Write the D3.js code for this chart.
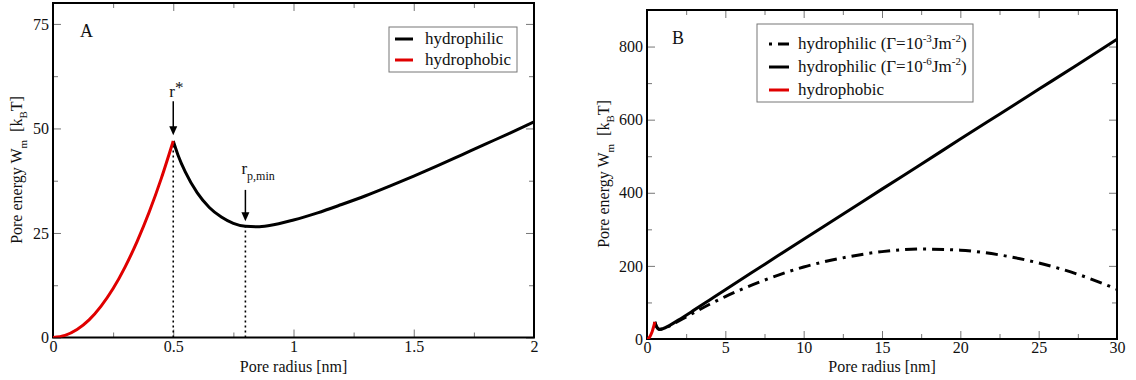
<!DOCTYPE html>
<html>
<head>
<meta charset="utf-8">
<script src="https://cdn.jsdelivr.net/npm/d3@7"></script>
<style>
  body { margin: 0; background: #fff; }
  svg { display: block; }
  svg text { font-family: "Liberation Serif", "Times New Roman", Tinos, Times, serif !important; fill: #111; }
</style>
</head>
<body>
<div id="chart"></div>
<script>
// pore energy curves

// hydrophobic branch, shared by both panels (r in nm, W in kBT)
const radiusPhobic = [0, 0.05, 0.1, 0.15, 0.2, 0.25, 0.3, 0.35, 0.4, 0.45, 0.5];
const energyPhobic = [0, 0.5, 1.9, 4.2, 7.5, 11.7, 16.9, 23.0, 30.0, 38.0, 47.0];

// hydrophilic branch, panel A
const radiusPhilicA = [0.5, 0.52, 0.55, 0.6, 0.65, 0.7, 0.75, 0.8, 0.85, 0.9, 1.0,
  1.1, 1.2, 1.3, 1.4, 1.5, 1.6, 1.7, 1.8, 1.9, 2.0];
const energyPhilicA = [47.0, 43.6, 39.6, 34.6, 31.1, 28.8, 27.3, 26.6, 26.5, 26.8, 28.1,
  29.8, 31.8, 33.9, 36.2, 38.6, 41.1, 43.7, 46.3, 48.9, 51.6];

// panel B, two line tensions
const radiusB = [0.5, 0.6, 0.8, 1, 1.5, 2, 3, 4, 5, 7.5, 10, 12.5, 15, 17.5, 20, 22.5, 25, 27.5, 30];
const energyLowTension = [47, 34.6, 26.6, 28.1, 38.6, 51.6, 79, 107, 135, 204, 273, 341, 410, 478, 547, 615, 683, 751, 820];
const energyHighTension = [47, 34.6, 26.1, 27.3, 36.9, 48.6, 72, 95, 116, 161, 197, 222, 239, 246, 243, 230, 208, 177, 136];

// tick values
const ticksAx = [0, 0.5, 1, 1.5, 2];
const ticksAy = [0, 25, 50, 75];
const ticksBx = [0, 5, 10, 15, 20, 25, 30];
const ticksBy = [0, 200, 400, 600, 800];

// marked radii in panel A
const rStar = 0.5, rStarEnergy = 47.0;
const rMin = 0.8, rMinEnergy = 26.6;

const W = 1136, H = 380;
const FONT = "Liberation Serif, Times New Roman, serif";
const svg = d3.select("#chart").append("svg").attr("width", W).attr("height", H)
  .attr("font-family", FONT);

const toPts = (xs, ys) => xs.map((x, i) => [x, ys[i]]);

function drawFrame(g, x, y, majX, minX, majY, minY, id) {
  const [x0, x1] = x.range(), [y0, y1] = y.range();

  g.append("defs").append("clipPath").attr("id", id)
    .append("rect").attr("x", x0).attr("y", y1).attr("width", x1 - x0).attr("height", y0 - y1);

  // inward ticks on all four sides, labels only left/bottom
  const sides = [
    [d3.axisBottom(x), y0, 0, majX, minX, true],
    [d3.axisTop(x), y1, 0, majX, minX, false],
    [d3.axisLeft(y), x0, 1, majY, minY, true],
    [d3.axisRight(y), x1, 1, majY, minY, false]
  ];
  sides.forEach(([ax, pos, vert, maj, min, labels]) => {
    const tr = vert ? `translate(${pos},0)` : `translate(0,${pos})`;
    g.append("g").attr("transform", tr)
      .call(ax.tickValues(min).tickSize(-5).tickFormat(""))
      .call(s => s.select(".domain").remove())
      .call(s => s.selectAll("line").attr("stroke", "#777"));
    const a = g.append("g").attr("transform", tr)
      .call(ax.tickValues(maj).tickSize(-8).tickPadding(vert ? 4 : 3)
        .tickFormat(labels ? d3.format("") : ""))
      .call(s => s.select(".domain").remove())
      .call(s => s.selectAll("line").attr("stroke", "#777"));
    a.attr("font-family", FONT).attr("font-size", 16);
  });

  g.append("rect").attr("x", x0).attr("y", y1).attr("width", x1 - x0).attr("height", y0 - y1)
    .attr("fill", "none").attr("stroke", "#000").attr("stroke-width", 2);
}

function yTitle(g, xPos, yMid) {
  const t = g.append("text").attr("transform", `translate(${xPos},${yMid}) rotate(-90)`)
    .attr("text-anchor", "middle").attr("font-size", 16);
  t.append("tspan").text("Pore energy W");
  t.append("tspan").attr("font-size", 11).attr("dy", 5).text("m");
  t.append("tspan").attr("dy", -5).text("\u00a0\u00a0[k");
  t.append("tspan").attr("font-size", 11).attr("dy", 5).text("B");
  t.append("tspan").attr("dy", -5).text("T]");
}

function xTitle(g, x) {
  const [x0, x1] = x.range();
  g.append("text").attr("x", (x0 + x1) / 2).attr("y", 372)
    .attr("text-anchor", "middle").attr("font-size", 16).text("Pore radius [nm]");
}

function arrow(g, xPix, yFrom, yTo) {
  g.append("line").attr("x1", xPix).attr("x2", xPix).attr("y1", yFrom).attr("y2", yTo - 7)
    .attr("stroke", "#000").attr("stroke-width", 1.5);
  g.append("path").attr("d", `M${xPix - 4},${yTo - 9}L${xPix + 4},${yTo - 9}L${xPix},${yTo}Z`).attr("fill", "#000");
}

// ---------- panel A ----------
const xA = d3.scaleLinear().domain([0, 2]).range([53, 534]);
const yA = d3.scaleLinear().domain([0, 80]).range([337.5, 3]);
const gA = svg.append("g");
drawFrame(gA, xA, yA, ticksAx, d3.range(0.25, 2, 0.5), ticksAy, [12.5, 37.5, 62.5], "clipA");

const lineA = d3.line().x(d => xA(d[0])).y(d => yA(d[1])).curve(d3.curveMonotoneX);
const plotA = gA.append("g").attr("clip-path", "url(#clipA)");

// dotted drop lines
[[rStar, rStarEnergy], [rMin, rMinEnergy]].forEach(([r, e]) => {
  plotA.append("line").attr("x1", xA(r)).attr("x2", xA(r)).attr("y1", yA(0)).attr("y2", yA(e))
    .attr("stroke", "#000").attr("stroke-width", 1.6).attr("stroke-dasharray", "2,3");
});
plotA.append("path").datum(toPts(radiusPhilicA, energyPhilicA)).attr("d", lineA)
  .attr("fill", "none").attr("stroke", "#000").attr("stroke-width", 3);
plotA.append("path").datum(toPts(radiusPhobic, energyPhobic)).attr("d", lineA)
  .attr("fill", "none").attr("stroke", "#e00000").attr("stroke-width", 3);

// annotations
arrow(gA, xA(rStar), yA(56.5), yA(48.4));
gA.append("text").attr("x", xA(rStar) - 4).attr("y", yA(57.4)).attr("font-size", 17)
  .call(t => { t.append("tspan").text("r"); t.append("tspan").attr("dy", -4).text("*"); });
arrow(gA, xA(rMin), yA(35.3), yA(27.8));
gA.append("text").attr("x", xA(rMin) - 4).attr("y", yA(39)).attr("font-size", 17)
  .call(t => { t.append("tspan").text("r"); t.append("tspan").attr("font-size", 12).attr("dy", 6).text("p,min"); });

gA.append("text").attr("x", 80).attr("y", 37).attr("font-size", 18).text("A");

// legend A
const legA = gA.append("g");
legA.append("rect").attr("x", 389).attr("y", 27).attr("width", 128).attr("height", 45)
  .attr("fill", "#fff").attr("stroke", "#777").attr("stroke-width", 1);
[["hydrophilic", "#000"], ["hydrophobic", "#e00000"]].forEach(([lab, col], i) => {
  const yy = 39 + i * 21;
  legA.append("line").attr("x1", 395).attr("x2", 413).attr("y1", yy).attr("y2", yy)
    .attr("stroke", col).attr("stroke-width", 3);
  legA.append("text").attr("x", 425).attr("y", yy + 5).attr("font-size", 17).text(lab);
});

yTitle(gA, 22, 170);
xTitle(gA, xA);

// ---------- panel B ----------
const xB = d3.scaleLinear().domain([0, 30]).range([647, 1117]);
const yB = d3.scaleLinear().domain([0, 900]).range([339, 10]);
const gB = svg.append("g");
drawFrame(gB, xB, yB, ticksBx, d3.range(2.5, 30, 5), ticksBy, [100, 300, 500, 700], "clipB");

const lineB = d3.line().x(d => xB(d[0])).y(d => yB(d[1])).curve(d3.curveMonotoneX);
const plotB = gB.append("g").attr("clip-path", "url(#clipB)");
plotB.append("path").datum(toPts(radiusB, energyHighTension)).attr("d", lineB)
  .attr("fill", "none").attr("stroke", "#000").attr("stroke-width", 3).attr("stroke-dasharray", "12,6,3,6");
plotB.append("path").datum(toPts(radiusB, energyLowTension)).attr("d", lineB)
  .attr("fill", "none").attr("stroke", "#000").attr("stroke-width", 3);
plotB.append("path").datum(toPts(radiusPhobic, energyPhobic)).attr("d", lineB)
  .attr("fill", "none").attr("stroke", "#e00000").attr("stroke-width", 3);

gB.append("text").attr("x", 672).attr("y", 44).attr("font-size", 18).text("B");

// legend B
const legB = gB.append("g");
legB.append("rect").attr("x", 757).attr("y", 24).attr("width", 216).attr("height", 78)
  .attr("fill", "#fff").attr("stroke", "#777").attr("stroke-width", 1);
const legBItems = [
  { exp: "-3", col: "#000", dash: "3,6,12,6" },
  { exp: "-6", col: "#000", dash: null },
  { exp: null, col: "#e00000", dash: null }
];
legBItems.forEach((it, i) => {
  const yy = 44 + i * 23;
  legB.append("line").attr("x1", 769).attr("x2", 789).attr("y1", yy).attr("y2", yy)
    .attr("stroke", it.col).attr("stroke-width", 3).attr("stroke-dasharray", it.dash);
  const t = legB.append("text").attr("x", 798).attr("y", yy + 5).attr("font-size", 17);
  if (it.exp) {
    t.append("tspan").text("hydrophilic (\u0393=10");
    t.append("tspan").attr("font-size", 11).attr("dy", -7).text(it.exp);
    t.append("tspan").attr("dy", 7).text("Jm");
    t.append("tspan").attr("font-size", 11).attr("dy", -7).text("-2");
    t.append("tspan").attr("dy", 7).text(")");
  } else {
    t.text("hydrophobic");
  }
});

yTitle(gB, 609, 174);
xTitle(gB, xB);
</script>
</body>
</html>
